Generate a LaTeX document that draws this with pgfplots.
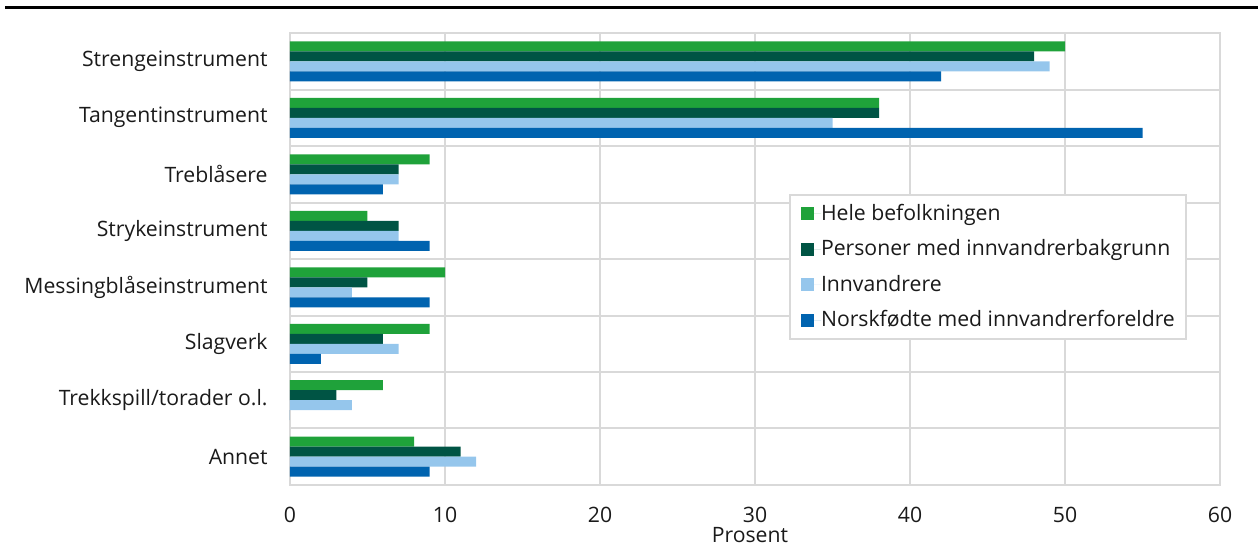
\documentclass[border=0pt]{standalone}
\usepackage{fontspec}
\setmainfont{Open Sans}
\usepackage{pgfplots}
\pgfplotsset{compat=1.18}
\definecolor{cgreen}{HTML}{1FA23A}
\definecolor{cdark}{HTML}{005444}
\definecolor{clight}{HTML}{95C6EC}
\definecolor{cblue}{HTML}{0063AF}
\definecolor{gridgray}{HTML}{D9D9D9}
\definecolor{txt}{HTML}{1A1A1A}
\begin{document}
\begin{tikzpicture}
\useasboundingbox (0,0) rectangle (629pt,272.5pt);
\draw[line width=1.65pt] (2.5pt,268.85pt) -- (629pt,268.85pt);
\begin{axis}[
  at={(145pt,30pt)}, anchor=south west,
  scale only axis, width=465pt, height=226pt,
  xmin=0, xmax=60, ymin=-0.5, ymax=7.5,
  xtick={0,10,...,60}, ytick={0,...,7},
  yticklabels={Annet, Trekkspill/torader o.l., Slagverk, Messingblåseinstrument, Strykeinstrument, Treblåsere, Tangentinstrument, Strengeinstrument},
  minor ytick={0.5,1.5,...,6.5},
  xmajorgrids, yminorgrids,
  major grid style={gridgray, line width=1pt},
  minor grid style={gridgray, line width=1pt},
  axis line style={gridgray, line width=1pt},
  major tick length=0pt, minor tick length=0pt,
  tick style={draw=none},
  /pgf/number format/assume math mode=true,
  ticklabel style={font=\fontsize{10.6}{12.7}\selectfont, text=txt},
  xticklabel style={anchor=center, inner ysep=0pt, yshift=-15pt},
  yticklabel style={anchor=east, inner sep=0pt, xshift=-11pt},
  xlabel={Prosent},
  every axis x label/.style={at={(axis description cs:0.4946,0)}, anchor=center, inner ysep=0pt, yshift=-25pt, font=\fontsize{10.6}{12.7}\selectfont, text=txt},
  legend style={at={(0.5366,0.6438)}, anchor=north west, draw=gridgray, line width=1pt,
    font=\fontsize{10.6}{12.7}\selectfont, text=txt, row sep=4.2pt, inner xsep=5.5pt, inner ysep=2.5pt,
    nodes={inner xsep=0pt}},
  legend cell align=left,
  legend image code/.code={\fill[#1] (0pt,-3.25pt) rectangle (6.5pt,3.25pt); \path (0pt,0pt) -- (10pt,0pt);},
]
\addplot[xbar, bar width=5pt, bar shift=7.5pt, fill=cgreen, draw=none] coordinates {(50,7) (38,6) (9,5) (5,4) (10,3) (9,2) (6,1) (8,0)};
\addplot[xbar, bar width=5pt, bar shift=2.5pt, fill=cdark, draw=none] coordinates {(48,7) (38,6) (7,5) (7,4) (5,3) (6,2) (3,1) (11,0)};
\addplot[xbar, bar width=5pt, bar shift=-2.5pt, fill=clight, draw=none] coordinates {(49,7) (35,6) (7,5) (7,4) (4,3) (7,2) (4,1) (12,0)};
\addplot[xbar, bar width=5pt, bar shift=-7.5pt, fill=cblue, draw=none] coordinates {(42,7) (55,6) (6,5) (9,4) (9,3) (2,2) (0,1) (9,0)};
\legend{Hele befolkningen, Personer med innvandrerbakgrunn, Innvandrere, Norskfødte med innvandrerforeldre}
\end{axis}
\end{tikzpicture}
\end{document}
